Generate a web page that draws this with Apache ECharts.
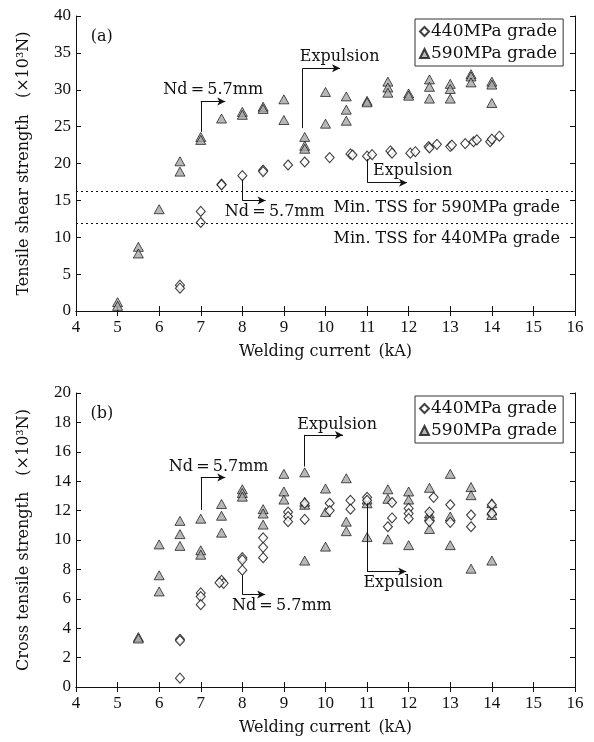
<!DOCTYPE html>
<html><head><meta charset="utf-8">
<script src="https://cdn.jsdelivr.net/npm/echarts@6/dist/echarts.min.js"></script>
<style>html,body{margin:0;padding:0;background:#fff}#c{width:594px;height:742px}</style>
</head><body><div id="c"></div>
<script>
// ---------- data ----------
const xTickLabels = ['4','5','6','7','8','9','10','11','12','13','14','15','16'];
const seriesNames = ['440MPa grade', '590MPa grade'];

// panel (a) Tensile shear strength (x10^3 N)
const tss440 = [[6.5,3.5],[6.5,3.1],[7,13.5],[7,12.0],[7.5,17.2],[7.5,17.1],[8,18.35],[8.5,19.1],[8.5,18.9],[9.1,19.8],[9.5,20.2],[10.1,20.8],[10.6,21.3],[10.65,21.15],[11,21.0],[11.12,21.2],[11.56,21.7],[11.6,21.4],[12.04,21.4],[12.16,21.6],[12.48,22.3],[12.5,22.1],[12.68,22.6],[13,22.3],[13.04,22.5],[13.36,22.7],[13.56,22.95],[13.64,23.2],[13.96,22.95],[14.0,23.3],[14.18,23.7]];
const tss590 = [[5,1.2],[5,0.7],[5.5,8.7],[5.5,7.8],[6,13.8],[6.5,20.3],[6.5,18.9],[7,23.6],[7,23.2],[7.5,26.1],[8,27.0],[8,26.6],[8.5,27.7],[8.5,27.4],[9,28.7],[9,25.9],[9.5,23.6],[9.5,22.4],[9.5,22.0],[10,29.7],[10,25.4],[10.5,29.1],[10.5,27.3],[10.5,25.8],[11,28.5],[11,28.3],[11.5,31.1],[11.5,30.3],[11.5,29.6],[12,29.5],[12,29.2],[12.5,31.4],[12.5,30.4],[12.5,28.8],[13,30.8],[13,30.1],[13,28.8],[13.5,32.1],[13.5,31.8],[13.5,31.0],[14,31.1],[14,30.7],[14,28.2]];
const minTss = [16.2, 11.9];
const minTssLabels = ['Min. TSS for 590MPa grade', 'Min. TSS for 440MPa grade'];

// panel (b) Cross tensile strength (x10^3 N)
const cts440 = [[6.5,3.25],[6.5,3.15],[6.5,0.6],[7,6.4],[7,6.15],[7,5.6],[7.5,7.25],[7.55,7.05],[7.45,7.1],[8,8.8],[8,8.65],[8,7.95],[8.5,10.15],[8.5,9.5],[8.5,8.8],[9.1,11.9],[9.1,11.6],[9.1,11.25],[9.5,12.5],[9.5,11.4],[10.1,12.5],[10.1,12.0],[10.6,12.7],[10.6,12.1],[11,12.9],[11,12.7],[11.6,12.55],[11.6,11.5],[11.5,10.9],[12,12.15],[12,11.8],[12,11.45],[12.6,12.9],[12.5,11.9],[12.5,11.25],[13,12.4],[13,11.2],[13.5,11.7],[13.5,10.9],[14,12.4],[14,11.8]];
const cts590 = [[5.5,3.4],[5.5,3.3],[6,9.7],[6,7.6],[6,6.5],[6.5,11.3],[6.5,10.4],[6.5,9.6],[7,11.45],[7,9.3],[7,9.0],[7.5,12.45],[7.5,11.65],[7.5,10.5],[8,13.45],[8,13.2],[8,12.95],[8.5,12.1],[8.5,11.8],[8.5,11.05],[9,14.5],[9,13.3],[9,12.75],[9.5,14.6],[9.5,12.6],[9.5,12.4],[9.5,8.6],[10,13.5],[10,11.9],[10,9.55],[10.5,14.2],[10.5,11.25],[10.5,10.6],[11,12.75],[11,12.5],[11,10.2],[11.5,13.45],[11.5,12.8],[11.5,10.05],[12,13.3],[12,12.75],[12,9.65],[12.5,13.55],[12.5,11.8],[12.5,11.6],[12.5,10.75],[13,14.5],[13,11.6],[13,9.65],[13.5,13.6],[13.5,13.05],[13.5,8.05],[14,12.5],[14,12.0],[14,11.7],[14,8.6]];

// annotation arrows: polyline corner points [x,y] (data units)
const arrowsA = [
  [[7,24.3],[7,28.4],[7.59,28.4]],
  [[8,17.8],[8,15.0],[8.56,15.0]],
  [[9.45,24.8],[9.45,32.9],[10.35,32.9]],
  [[11.01,20.6],[11.01,17.4],[11.96,17.4]]
];
const ndText = 'Nd\u2009=\u20095.7mm';
const textsA = [
  {t:'(a)', p:[4.62,37.2]},
  {t:ndText, p:[7.3,30.0]},
  {t:ndText, p:[8.78,13.5]},
  {t:'Expulsion', p:[10.34,34.5]},
  {t:'Expulsion', p:[12.1,19.0]}
];
const arrowsB = [
  [[7,12.05],[7,14.25],[7.59,14.25]],
  [[8,7.6],[8,6.3],[8.55,6.3]],
  [[9.49,15.0],[9.49,17.15],[10.42,17.15]],
  [[11.0,12.5],[11.0,7.85],[11.94,7.85]]
];
const textsB = [
  {t:'(b)', p:[4.62,18.6]},
  {t:ndText, p:[7.43,15.0]},
  {t:ndText, p:[8.95,5.5]},
  {t:'Expulsion', p:[10.28,17.8]},
  {t:'Expulsion', p:[11.87,7.1]}
];

// ---------- styling ----------
const FONT = '"DejaVu Serif", "Liberation Serif", serif';
const TICKFONT = '"Liberation Serif", serif';
const FS = 16;
const black = '#111';
const triFill = '#a6a6a6';

function arrowLines(arrows) {
  const out = [];
  arrows.forEach(a => {
    out.push([{coord:a[0], symbol:'none'}, {coord:a[1], symbol:'none'}]);
    out.push([{coord:a[1], symbol:'none'}, {coord:a[2], symbol:'arrow', symbolSize:[6,8]}]);
  });
  return out;
}
function textPoints(texts) {
  return texts.map(o => ({coord:o.p, value:o.t}));
}

function xAxes(gi) {
  const base = {gridIndex:gi, type:'value', min:4, max:16, interval:1,
    axisLine:{show:true, lineStyle:{color:black, width:1}},
    axisTick:{show:true, inside:true, length:5, lineStyle:{color:black}},
    splitLine:{show:false}};
  return [
    Object.assign({}, base, {position:'bottom',
      axisLabel:{show:true, margin:8, color:black, fontFamily:TICKFONT, fontSize:17,
        formatter: v => xTickLabels[Math.round(v-4)]},
      name:'Welding current\u2002(kA)', nameLocation:'middle', nameGap:33,
      nameTextStyle:{color:black, fontFamily:FONT, fontSize:FS}}),
    Object.assign({}, base, {position:'top', axisLabel:{show:false}})
  ];
}
function yAxes(gi, max, interval, name) {
  const base = {gridIndex:gi, type:'value', min:0, max:max, interval:interval,
    axisLine:{show:true, lineStyle:{color:black, width:1}},
    axisTick:{show:true, inside:true, length:5, lineStyle:{color:black}},
    splitLine:{show:false}};
  return [
    Object.assign({}, base, {position:'left',
      axisLabel:{show:true, margin:5, color:black, fontFamily:TICKFONT, fontSize:17},
      name:name, nameLocation:'middle', nameGap:44,
      nameTextStyle:{color:black, fontFamily:FONT, fontSize:FS}}),
    Object.assign({}, base, {position:'right', axisLabel:{show:false}})
  ];
}

const diamondStyle = {symbol:'diamond', symbolSize:[9,10],
  itemStyle:{color:'#fff', borderColor:black, borderWidth:1.1}};
const triStyle = {symbol:'triangle', symbolSize:[10,9],
  itemStyle:{color:triFill, borderColor:black, borderWidth:0.9}};

const markPointCfg = texts => ({
  symbol:'circle', symbolSize:1, silent:true,
  itemStyle:{color:'rgba(0,0,0,0)'},
  label:{show:true, position:'inside', formatter: p => p.value,
    color:black, fontFamily:FONT, fontSize:FS},
  data: textPoints(texts)
});

function legend(top) {
  return {
    orient:'vertical', left:415, top:top, data:seriesNames,
    itemWidth:9, itemHeight:9, itemGap:5,
    padding:[4,6,4,4],
    borderColor:'#333', borderWidth:1,
    textStyle:{color:black, fontFamily:FONT, fontSize:17, padding:[0,0,0,-3]},
    selectedMode:false
  };
}

const option = {
  backgroundColor:'#fff',
  animation:false,
  grid:[
    {left:76, top:16, width:499, height:295},
    {left:76, top:393, width:499, height:294}
  ],
  legend:[legend(19), legend(396)],
  xAxis:[...xAxes(0), ...xAxes(1)],
  yAxis:[...yAxes(0, 40, 5, 'Tensile shear strength\u2003(\u00D710\u00B3N)'),
         ...yAxes(1, 20, 2, 'Cross tensile strength\u2003(\u00D710\u00B3N)')],
  series:[
    Object.assign({name:seriesNames[1], type:'scatter', xAxisIndex:0, yAxisIndex:0, data:tss590, z:2}, triStyle),
    Object.assign({name:seriesNames[0], type:'scatter', xAxisIndex:0, yAxisIndex:0, data:tss440, z:3,
      markLine:{
        silent:true, symbol:['none','none'],
        lineStyle:{color:black, width:1, type:'solid'},
        label:{show:false},
        data:[
          ...minTss.map((v,i) => ({yAxis:v,
            lineStyle:{type:[2,3], width:1, color:black},
            label:{show:true, position:'insideEndBottom', distance:[15,8], formatter:minTssLabels[i],
              color:black, fontFamily:FONT, fontSize:FS}})),
          ...arrowLines(arrowsA)
        ]
      },
      markPoint: markPointCfg(textsA)
    }, diamondStyle),
    Object.assign({name:seriesNames[1], type:'scatter', xAxisIndex:2, yAxisIndex:2, data:cts590, z:2}, triStyle),
    Object.assign({name:seriesNames[0], type:'scatter', xAxisIndex:2, yAxisIndex:2, data:cts440, z:3,
      markLine:{
        silent:true, symbol:['none','none'],
        lineStyle:{color:black, width:1, type:'solid'},
        label:{show:false},
        data: arrowLines(arrowsB)
      },
      markPoint: markPointCfg(textsB)
    }, diamondStyle)
  ]
};
const chart = echarts.init(document.getElementById('c'), null, {renderer:'canvas'});
chart.setOption(option);
</script>
</body></html>
